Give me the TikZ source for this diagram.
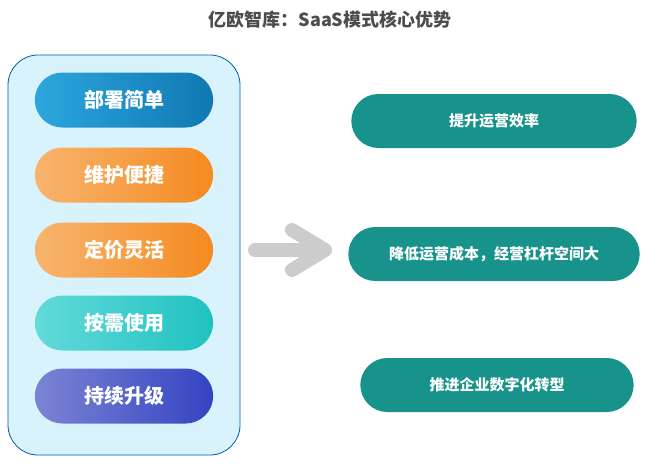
\documentclass[tikz,border=0pt]{standalone}
\usepackage{fontspec}
\setmainfont{Noto Sans CJK SC}
\usetikzlibrary{shapes.misc}
\definecolor{gainC}{HTML}{17938C}
\definecolor{blueL}{HTML}{2CA6DE}
\definecolor{blueR}{HTML}{1078B2}
\definecolor{orL}{HTML}{F7B46E}
\definecolor{orR}{HTML}{F58A20}
\definecolor{cyL}{HTML}{62DADA}
\definecolor{cyR}{HTML}{1FC2C0}
\definecolor{inL}{HTML}{7C84D4}
\definecolor{inR}{HTML}{3344C2}
\tikzset{
  feat/.style={rounded rectangle, minimum width=185pt, minimum height=55pt,
               text=white, font=\bfseries\fontsize{20}{20}\selectfont},
  gain/.style={rounded rectangle, fill=gainC, minimum height=54pt,
               text=white, font=\bfseries\fontsize{15}{15}\selectfont}
}
\begin{document}
\begin{tikzpicture}[x=1pt,y=-1pt]
\useasboundingbox (0,0) rectangle (660,467);
\node[font=\bfseries\fontsize{18}{18}\selectfont, text=black!70] (title) at (330,20) {亿欧智库：SaaS模式核心优势};
\draw[draw=teal!70!blue, fill=cyan!15, rounded corners=30pt, line width=0.8pt] (8,55) rectangle (240,455);
\node[feat, left color=blueL, right color=blueR] (f1) at (124,100) {部署简单};
\node[feat, left color=orL, right color=orR] (f2) at (124,175) {维护便捷};
\node[feat, left color=orL, right color=orR] (f3) at (124,250) {定价灵活};
\node[feat, left color=cyL, right color=cyR] (f4) at (124,323) {按需使用};
\node[feat, left color=inL, right color=inR] (f5) at (124,396) {持续升级};
\draw[line width=14pt, gray!40, line cap=round, line join=round] (255,250) -- (325,250) (292,230) -- (325,250) -- (292,270);
\node[gain, minimum width=292pt] (g1) at (494,121) {提升运营效率};
\node[gain, minimum width=298pt] (g2) at (494,254) {降低运营成本，经营杠杆空间大};
\node[gain, minimum width=280pt] (g3) at (497,385) {推进企业数字化转型};
\end{tikzpicture}
\end{document}
